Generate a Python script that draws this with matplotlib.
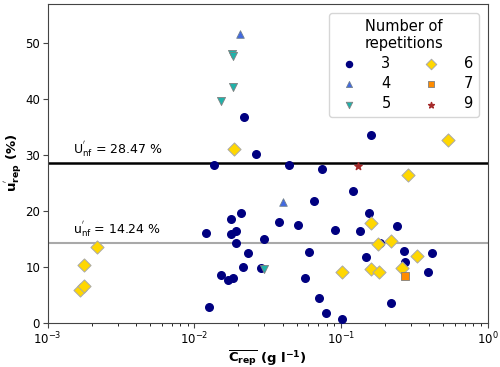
import numpy as np
import matplotlib
matplotlib.use("Agg")
import matplotlib.pyplot as plt

# mean concentration (g/l) and repeatability uncertainty (%) by number of repetitions
c3 = [0.0219, 0.0136, 0.0263, 0.0445, 0.0745, 0.161, 0.0208, 0.0179, 0.0376, 0.0507,
      0.0120, 0.0177, 0.0192, 0.0192, 0.0297, 0.0231, 0.0215, 0.0151, 0.0171, 0.0184,
      0.0285, 0.0125, 0.121, 0.0653, 0.155, 0.0914, 0.134, 0.243, 0.184, 0.061,
      0.2685, 0.149, 0.273, 0.0572, 0.0707, 0.0793, 0.1016, 0.219, 0.42, 0.394]
u3 = [36.7, 28.2, 30.2, 28.2, 27.5, 33.5, 19.6, 18.5, 18.0, 17.4,
      16.0, 15.9, 16.3, 14.3, 14.9, 12.5, 9.9, 8.5, 7.7, 7.9,
      9.7, 2.85, 23.6, 21.7, 19.6, 16.6, 16.3, 17.3, 14.3, 12.7,
      12.8, 11.8, 10.9, 7.9, 4.4, 1.7, 0.66, 3.46, 12.5, 9.0]
c4 = [0.0204, 0.0401]
u4 = [51.6, 21.5]
c5 = [0.0182, 0.0184, 0.0185, 0.0153, 0.0300]
u5 = [48.1, 47.7, 42.2, 39.7, 9.6]
c6 = [0.00166, 0.00178, 0.00177, 0.00218, 0.0187, 0.541, 0.288, 0.161, 0.179, 0.218,
      0.1016, 0.1596, 0.182, 0.262, 0.328]
u6 = [5.8, 6.6, 10.3, 13.5, 31.1, 32.6, 26.4, 17.8, 14.15, 14.6,
      9.1, 9.6, 9.1, 9.7, 11.9]
c7 = [0.273]
u7 = [8.4]
c9 = [0.1306]
u9 = [28.0]

u_nf_big = 28.47
u_nf_small = 14.24

fig = plt.figure(figsize=(5, 3.67), dpi=100)
ax = fig.add_axes([0.0954, 0.121, 0.8796, 0.868])

ax.axhline(u_nf_big, color='black', lw=1.8, zorder=1)
ax.axhline(u_nf_small, color='darkgray', lw=1.5, zorder=1)

ax.scatter(c3, u3, s=30, marker='o', color='navy', label='3', zorder=3)
ax.scatter(c4, u4, s=30, marker='^', color='royalblue', edgecolor='slategray', lw=0.6, label='4', zorder=3)
ax.scatter(c5, u5, s=34, marker='v', color='lightseagreen', edgecolor='gray', lw=0.6, label='5', zorder=3)
ax.scatter(c6, u6, s=45, marker='D', color='gold', edgecolor='darkgray', lw=0.7, label='6', zorder=3)
ax.scatter(c7, u7, s=34, marker='s', color='darkorange', edgecolor='gray', lw=0.6, label='7', zorder=3)
ax.scatter(c9, u9, s=30, marker='*', color='brown', label='9', zorder=3)

ax.text(0.00148, u_nf_big + 0.8, r"U$^{'}_{\mathrm{nf}}$ = 28.47 %", fontsize=9, va='bottom')
ax.text(0.00148, u_nf_small + 0.8, r"u$^{'}_{\mathrm{nf}}$ = 14.24 %", fontsize=9, va='bottom')

ax.set_xscale('log')
ax.set_xlim(1e-3, 1e0)
ax.set_ylim(0, 57)
ax.set_yticks([0, 10, 20, 30, 40, 50])
ax.tick_params(labelsize=8.5, color='#444444', pad=2)
for sp in ax.spines.values():
    sp.set_color('#444444')

ax.set_xlabel(r"$\overline{\mathbf{C}_{\mathbf{rep}}}$ (g l$^{\mathbf{-1}}$)", fontsize=9.5, fontweight='bold', labelpad=1)
ax.set_ylabel(r"$\mathbf{u}^{'}_{\mathbf{rep}}$ (%)", fontsize=9.5, fontweight='bold', labelpad=1)

leg = ax.legend(title='Number of\nrepetitions', ncol=2, loc='upper right', fontsize=10.5,
                title_fontsize=10.5, markerscale=0.8, columnspacing=1.8, handletextpad=1.2,
                labelspacing=0.35, borderaxespad=0.6)
leg.get_title().set_multialignment('center')

fig.savefig('out.png', dpi=100)
